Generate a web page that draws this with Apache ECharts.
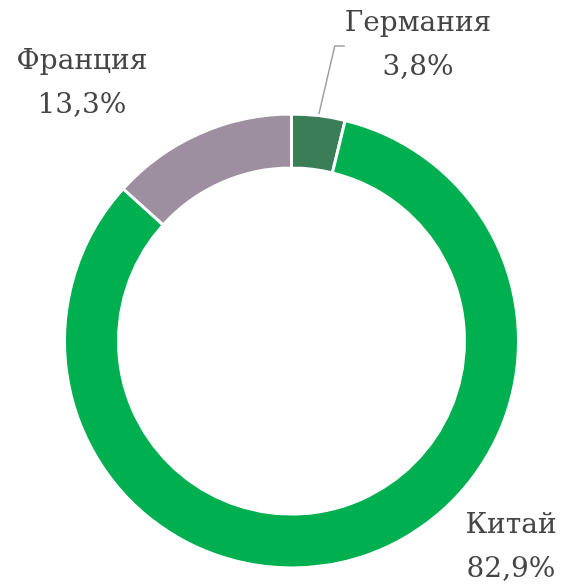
<!DOCTYPE html>
<html>
<head>
<meta charset="utf-8">
<script src="https://cdn.jsdelivr.net/npm/echarts@6/dist/echarts.min.js"></script>
<style>
  html, body { margin: 0; padding: 0; background: #fff; }
  #chart { width: 564px; height: 584px; }
</style>
</head>
<body>
<div id="chart"></div>
<script>
const countries = ['Германия', 'Китай', 'Франция'];
const shares = [3.8, 82.9, 13.3];
const colors = ['#3A7D56', '#00AF50', '#9E8FA0'];

// label block centres
const labelPos = [[418, 46], [511, 548], [82, 84]];

const chart = echarts.init(document.getElementById('chart'));
chart.setOption({
  animation: false,
  series: [{
    type: 'pie',
    center: [291.5, 341],
    radius: [173, 227],
    startAngle: 90,
    clockwise: true,
    avoidLabelOverlap: false,
    data: countries.map((n, i) => ({
      name: n,
      value: shares[i],
      itemStyle: { color: colors[i] },
      labelLine: { show: i === 0 }
    })),
    itemStyle: { borderColor: '#fff', borderWidth: 3 },
    label: {
      position: 'outside',
      fontFamily: 'DejaVu Serif',
      fontSize: 28,
      lineHeight: 44,
      color: '#454545',
      formatter: p => p.name + '\n' + p.value.toFixed(1).replace('.', ',') + '%'
    },
    labelLine: {
      length: 20,
      length2: 10,
      lineStyle: { color: '#A0A0A0', width: 1.5 }
    },
    labelLayout: p => ({
      x: labelPos[p.dataIndex][0],
      y: labelPos[p.dataIndex][1],
      align: 'center',
      verticalAlign: 'middle'
    })
  }]
});
</script>
</body>
</html>
